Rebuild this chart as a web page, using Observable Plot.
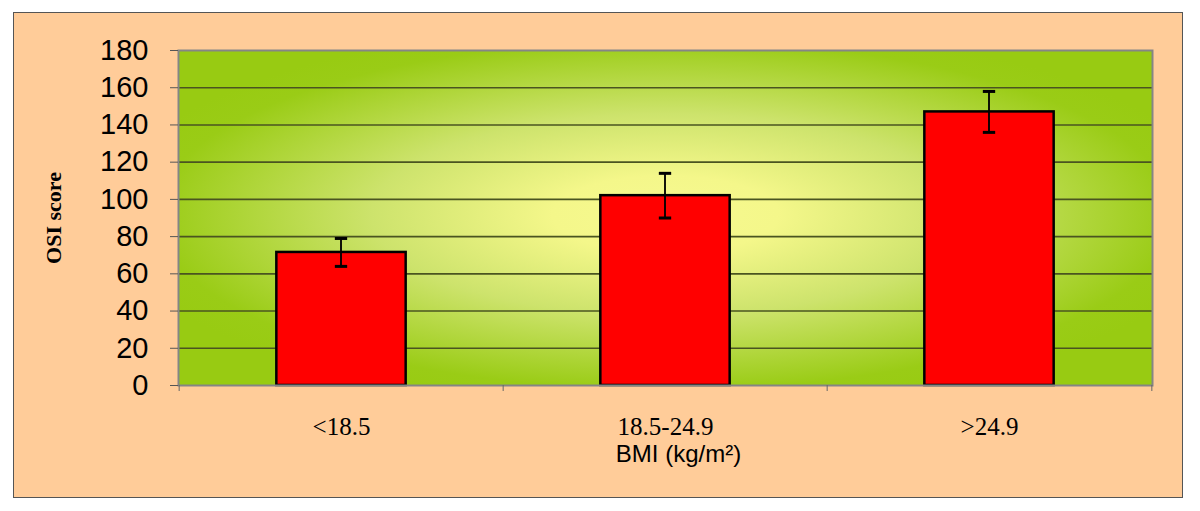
<!DOCTYPE html>
<html>
<head>
<meta charset="utf-8">
<script src="https://cdn.jsdelivr.net/npm/d3@7"></script>
<script src="https://cdn.jsdelivr.net/npm/@observablehq/plot@0.6"></script>
<style>
  html, body { margin: 0; padding: 0; background: #ffffff; }
  #wrap { position: relative; width: 1200px; height: 511px; }
  #box { position: absolute; left: 13px; top: 12px; width: 1168px; height: 484px;
         background: #FFCC99; border: 1px solid #555555; }
  #chart { position: absolute; left: 0; top: 0; }
</style>
</head>
<body>
<div id="wrap"><div id="box"></div><div id="chart"></div></div>
<script>
const categories = ["<18.5", "18.5-24.9", ">24.9"];
const osiMeans = [71.5, 102, 147];
const osiErrors = [7.5, 12, 11];
const yTicks = [0, 20, 40, 60, 80, 100, 120, 140, 160, 180];
const gridTicks = [20, 40, 60, 80, 100, 120, 140, 160];
const xLabel = "BMI (kg/m²)";
const yLabel = "OSI score";

const data = categories.map((c, i) => ({cat: c, v: osiMeans[i], e: osiErrors[i]}));

const W = 1200, H = 511;
const mL = 178, mR = 48, mT = 50, mB = 126;
const band = (W - mL - mR) / categories.length;
const barInset = (band - 130) / 2;
const stemInset = (band - 2.5) / 2;
const capInset = (band - 13) / 2;

const plot = Plot.plot({
  width: W, height: H,
  marginLeft: mL, marginRight: mR, marginTop: mT, marginBottom: mB,
  style: {fontFamily: "Liberation Sans, Arial, sans-serif", background: "transparent", color: "black"},
  x: {type: "band", domain: categories, padding: 0, label: null},
  y: {domain: [0, 180], label: null},
  marks: [
    Plot.frame({fill: "url(#bg)", stroke: "none"}),
    Plot.ruleY(gridTicks, {stroke: "#4a5420", strokeWidth: 1.6}),
    Plot.barY(data, {x: "cat", y: "v", fill: "#FF0000", stroke: "black", strokeWidth: 2.5,
      insetLeft: barInset, insetRight: barInset}),
    Plot.barY(data, {x: "cat", y1: d => d.v - d.e, y2: d => d.v + d.e, fill: "black",
      insetLeft: stemInset, insetRight: stemInset}),
    Plot.tickY(data, {x: "cat", y: d => d.v + d.e, stroke: "black", strokeWidth: 3,
      insetLeft: capInset, insetRight: capInset}),
    Plot.tickY(data, {x: "cat", y: d => d.v - d.e, stroke: "black", strokeWidth: 3,
      insetLeft: capInset, insetRight: capInset}),
    Plot.frame({stroke: "#858585", strokeWidth: 2}),
    Plot.axisY({ticks: yTicks, tickSize: 8, tickPadding: 22, fontSize: 29,
      stroke: "#555555", fill: "black", label: null,
      fontFamily: "Liberation Sans, Arial, sans-serif"}),
    Plot.axisX({tickSize: 0, tickPadding: 32, fontSize: 25, fill: "black", label: null,
      fontFamily: "Liberation Serif, Times New Roman, serif"}),
    Plot.axisX({tickSize: 6, tickFormat: null, dx: -band / 2, stroke: "#666666", label: null}),
    Plot.axisX({ticks: [categories[categories.length - 1]], tickSize: 6, tickFormat: null,
      dx: band / 2, stroke: "#666666", label: null}),
    Plot.text([xLabel], {frameAnchor: "bottom", dy: 76, dx: 13, fontSize: 24,
      fill: "black", fontFamily: "Liberation Sans, Arial, sans-serif"}),
    Plot.text([yLabel], {frameAnchor: "left", textAnchor: "middle", dx: -125, rotate: -90, fontSize: 22,
      fontWeight: "bold", fill: "black", fontFamily: "Liberation Serif, Times New Roman, serif"})
  ]
});

const svg = d3.select(plot);
const defs = svg.insert("defs", ":first-child");
const g = defs.append("radialGradient").attr("id", "bg")
  .attr("cx", 0.5).attr("cy", 0.49).attr("r", 0.58);
[[0, "#F7F990"], [0.2, "#F4F78A"], [0.52, "#CDE36C"], [0.9, "#9ACC16"], [1, "#98CB12"]]
  .forEach(([o, c]) => g.append("stop").attr("offset", o).attr("stop-color", c));

document.getElementById("chart").appendChild(plot);
</script>
</body>
</html>
